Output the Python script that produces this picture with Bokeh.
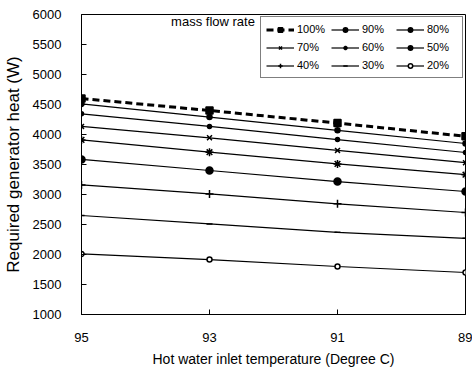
from bokeh.plotting import figure
from bokeh.models import Range1d, FixedTicker, Label, Legend, LegendItem
from bokeh.embed import file_html
from bokeh.resources import INLINE

temps = [95, 93, 91, 89]
labels = ["100%", "90%", "80%", "70%", "60%", "50%", "40%", "30%", "20%"]
heat_100 = [4600, 4400, 4190, 3970]
heat_90 = [4510, 4290, 4070, 3850]
heat_80 = [4345, 4135, 3915, 3700]
heat_70 = [4135, 3945, 3735, 3530]
heat_60 = [3910, 3705, 3510, 3330]
heat_50 = [3585, 3400, 3215, 3050]
heat_40 = [3160, 3010, 2845, 2700]
heat_30 = [2650, 2510, 2370, 2270]
heat_20 = [2010, 1915, 1800, 1700]
series = [heat_100, heat_90, heat_80, heat_70, heat_60, heat_50, heat_40, heat_30, heat_20]
y_ticks = [1000, 1500, 2000, 2500, 3000, 3500, 4000, 4500, 5000, 5500, 6000]

FONT = "Liberation Sans"

p = figure(width=472, height=377, output_backend="svg", toolbar_location=None,
           x_range=Range1d(95, 89), y_range=Range1d(1000, 6000),
           min_border_left=77, min_border_right=7, min_border_top=14, min_border_bottom=63)
p.grid.visible = False
p.outline_line_color = "black"
p.outline_line_width = 1

for ax in (p.xaxis[0], p.yaxis[0]):
    ax.major_label_text_font = FONT
    ax.major_label_text_font_size = "13px"
    ax.major_label_text_color = "black"
    ax.axis_label_text_font = FONT
    ax.axis_label_text_font_style = "normal"
    ax.axis_label_text_color = "black"
    ax.axis_line_color = "black"
    ax.major_tick_line_color = "black"
    ax.major_tick_in = 5
    ax.major_tick_out = 0
    ax.minor_tick_line_color = None

p.xaxis.ticker = FixedTicker(ticks=temps)
p.yaxis.ticker = FixedTicker(ticks=y_ticks)
p.xaxis.axis_label = "Hot water inlet temperature (Degree C)"
p.yaxis.axis_label = "Required generator heat (W)"
p.xaxis.axis_label_text_font_size = "14px"
p.yaxis.axis_label_text_font_size = "17px"
p.xaxis.major_label_standoff = 18
p.yaxis.major_label_standoff = 20
p.xaxis.axis_label_standoff = 6
p.yaxis.axis_label_standoff = 7

markers = [
    dict(marker="square", size=7, fill_color="black"),
    dict(marker="circle", size=5, fill_color="black"),
    dict(marker="circle", size=4, fill_color="black"),
    dict(marker="x", size=7, fill_color="black"),
    dict(marker="asterisk", size=8, fill_color="black"),
    dict(marker="circle", size=7, fill_color="black"),
    dict(marker="cross", size=8, fill_color="black"),
    dict(marker="dash", size=6, fill_color="black"),
    dict(marker="circle", size=5, fill_color="white"),
]

items = []
for lab, vals, mk in zip(labels, series, markers):
    if lab == "100%":
        r1 = p.line(temps, vals, line_color="black", line_width=3, line_dash="7 4")
    else:
        r1 = p.line(temps, vals, line_color="black", line_width=1.2)
    r2 = p.scatter(temps, vals, line_color="black", line_width=1.5, **mk)
    items.append(LegendItem(label=lab, renderers=[r1, r2]))

legend = Legend(items=items, location="top_right", orientation="horizontal", nrows=3, ncols=3,
                label_text_font=FONT, label_text_font_size="11px", label_text_color="black",
                glyph_width=28, glyph_height=11, label_standoff=3, spacing=4,
                padding=5, margin=2, border_line_color="black", border_line_width=1,
                background_fill_alpha=1, label_height=14, label_width=30)
p.add_layout(legend)

p.add_layout(Label(x=93.6, y=5890, text="mass flow rate", text_font=FONT,
                   text_font_size="13px", text_baseline="middle", text_align="left",
                   text_color="black"))

open("out.html", "w").write(file_html(p, INLINE))
